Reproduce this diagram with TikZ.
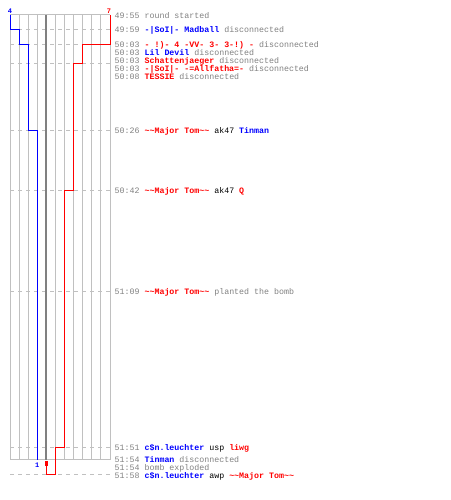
\documentclass[tikz,border=0pt]{standalone}
\usepackage{fontspec}
\setmonofont{Liberation Mono}

\definecolor{gridgray}{HTML}{C0C0C0}
\definecolor{timegray}{HTML}{808080}

\newcommand{\pBlue}[1]{\textcolor{blue}{\textbf{#1}}}
\newcommand{\pRed}[1]{\textcolor{red}{\textbf{#1}}}
\newcommand{\pGun}[1]{\textcolor{black}{#1}}
\newcommand{\pTom}{\pRed{\textasciitilde\textasciitilde Major Tom\textasciitilde\textasciitilde}}

\tikzset{
  ev/.style={anchor=base west, inner sep=0pt, text=timegray,
    font=\ttfamily\fontsize{8.3}{8.3}\selectfont},
  cnt/.style={inner sep=0pt, font=\ttfamily\bfseries\fontsize{7}{7}\selectfont},
  gridline/.style={gridgray, line width=1pt},
  tickline/.style={gridgray, line width=1pt, dash pattern=on 4pt off 4pt},
}

\begin{document}
\begin{tikzpicture}[x=1pt, y=-1pt]
\useasboundingbox (0,0) rectangle (450,500);

\def\xl{10};
\def\xr{110};
\def\dx{9.0909};
\def\tx{114.5};

\def\ya{15};
\def\yb{30};
\def\yc{45};
\def\yd{63.5};
\def\ye{130.7};
\def\yf{190.4};
\def\yg{291.2};
\def\yh{447.9};
\def\yi{459.5};
\def\yj{474};

% grid
\foreach \i in {0,...,11}
  \draw[gridline] ({\xl+\i*\dx}, \ya) -- ({\xl+\i*\dx}, \yi);
\draw[gridline] (\xl, \ya) -- (\xr, \ya);
\draw[gridline] (\xl, \yi) -- (\xr, \yi);
\foreach \y in {\yb,\yc,\yd,\ye,\yf,\yg,\yh,\yj}
  \draw[tickline] (\xl, \y) -- (\xr, \y);
\draw[timegray, line width=2pt] ({\xl+4*\dx}, \ya) -- ({\xl+4*\dx}, \yi);

% teams
\draw[blue, line width=1pt] (\xl, \ya) |- ({\xl+\dx}, \yb) |- ({\xl+2*\dx}, \yc)
  |- ({\xl+3*\dx}, \ye) -- ({\xl+3*\dx}, \yi);
\draw[red, line width=1pt] (\xr, \ya) |- ({\xl+8*\dx}, \yc) |- ({\xl+7*\dx}, \yd)
  |- ({\xl+6*\dx}, \yf) |- ({\xl+5*\dx}, \yh) |- ({\xl+4*\dx}, \yj) -- ({\xl+4*\dx}, 464);
\node[fill=red, inner sep=0pt, minimum width=3.5pt, minimum height=5pt] (boom) at ({\xl+4*\dx}, 463.5) {};

\node[cnt, blue] (nb) at (\xl, 11) {4};
\node[cnt, red] (nr) at (109, 11) {7};
\node[cnt, blue] (ne) at ({\xl+3*\dx}, 465.5) {1};

% log
\node[ev] (r1) at (\tx, 18.7) {49:55 round started};
\node[ev] (r2) at (\tx, 33) {49:59 \pBlue{-|SoI|- Madball} disconnected};
\node[ev] (r3) at (\tx, 47.2) {50:03 \pRed{- !)- 4 -VV- 3- 3-!) -} disconnected};
\node[ev] (r4) at (\tx, 55.4) {50:03 \pBlue{Lil Devil} disconnected};
\node[ev] (r5) at (\tx, 63.7) {50:03 \pRed{Schattenjaeger} disconnected};
\node[ev] (r6) at (\tx, 71.7) {50:03 \pRed{-|SoI|- -=Allfatha=-} disconnected};
\node[ev] (r7) at (\tx, 79.7) {50:08 \pRed{TESSIE} disconnected};
\node[ev] (r8) at (\tx, 133.7) {50:26 \pTom{} \pGun{ak47} \pBlue{Tinman}};
\node[ev] (r9) at (\tx, 193.7) {50:42 \pTom{} \pGun{ak47} \pRed{Q}};
\node[ev] (r10) at (\tx, 294.7) {51:09 \pTom{} planted the bomb};
\node[ev] (r11) at (\tx, 450.2) {51:51 \pBlue{c\$n.leuchter} \pGun{usp} \pRed{liwg}};
\node[ev] (r12) at (\tx, 462.7) {51:54 \pBlue{Tinman} disconnected};
\node[ev] (r13) at (\tx, 470.7) {51:54 bomb exploded};
\node[ev] (r14) at (\tx, 478.2) {51:58 \pBlue{c\$n.leuchter} \pGun{awp} \pTom};

\end{tikzpicture}
\end{document}
